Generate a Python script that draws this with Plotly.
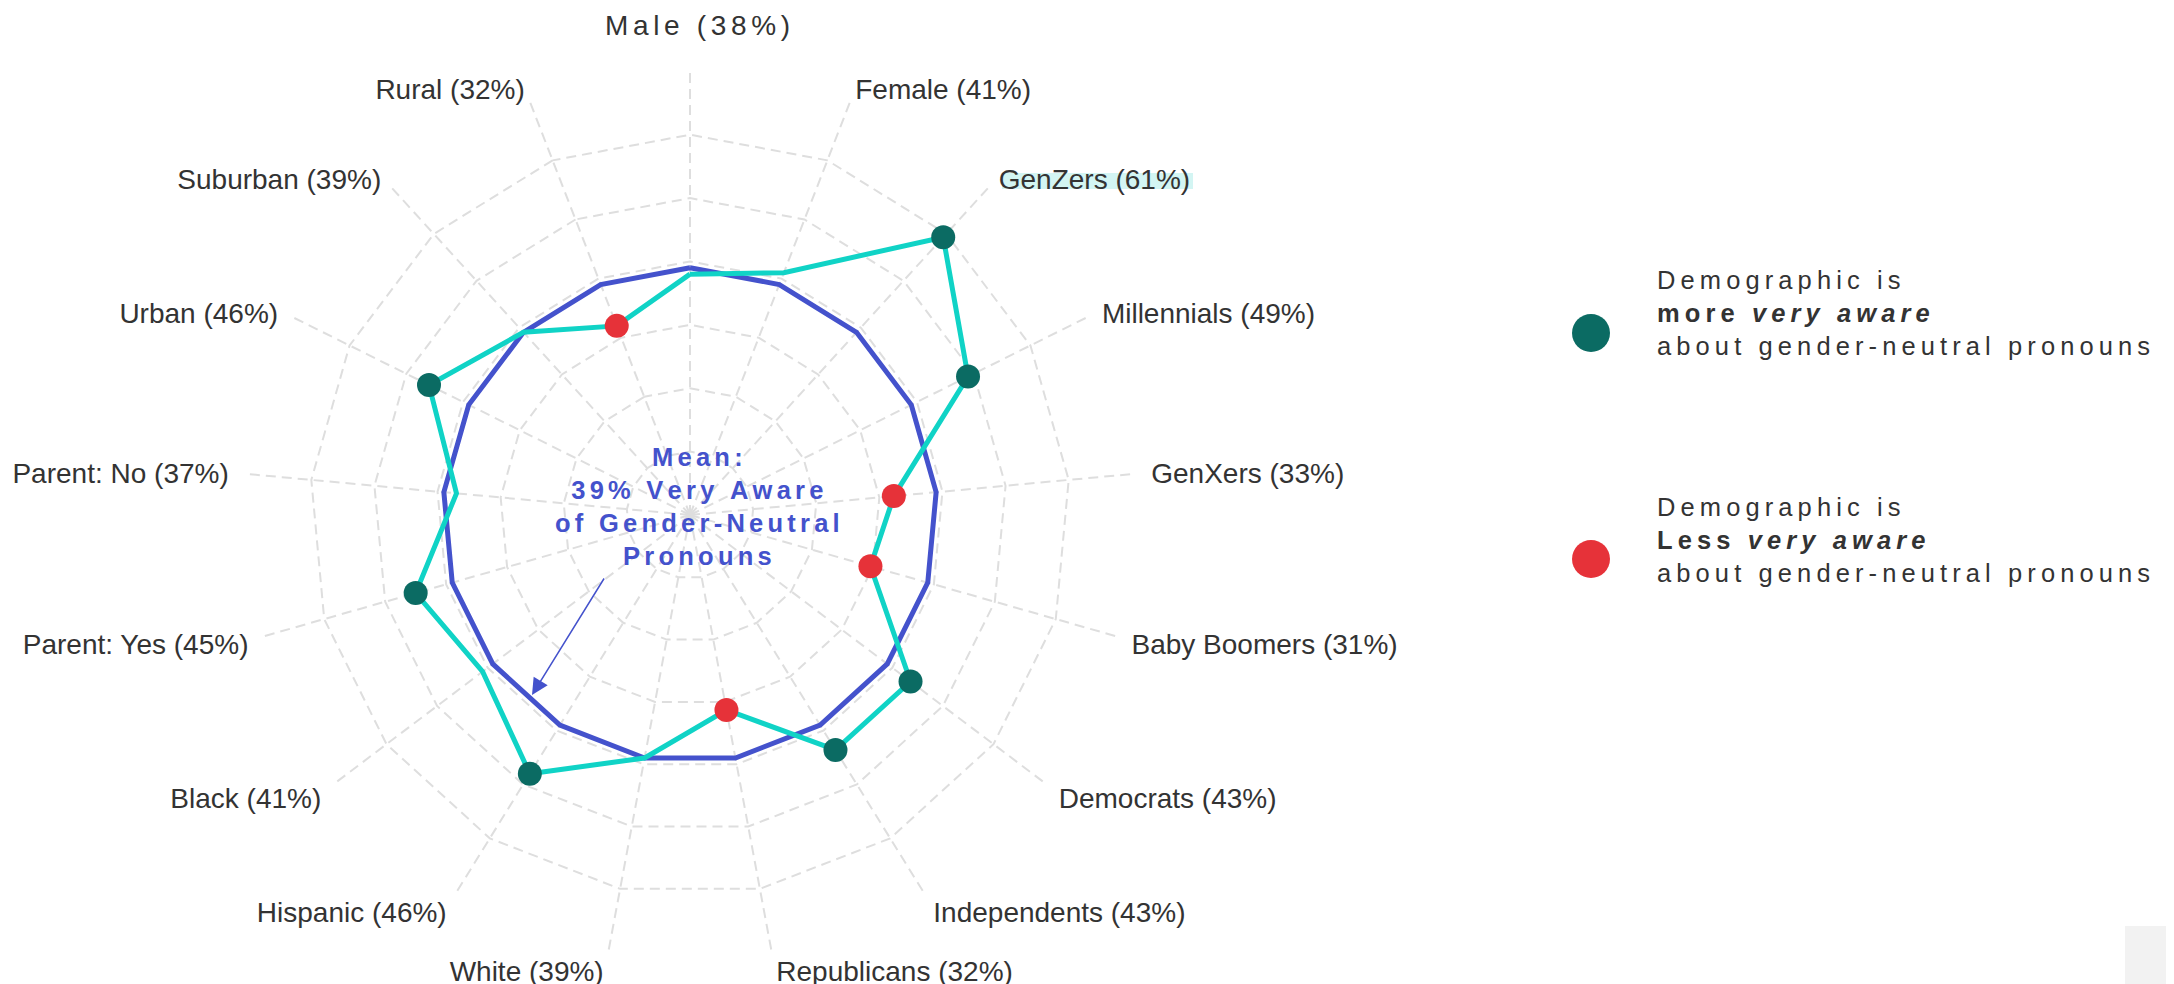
import math
import plotly.graph_objects as go

# ---------------- data ----------------
categories = ["Male", "Female", "GenZers", "Millennials", "GenXers", "Baby Boomers",
              "Democrats", "Independents", "Republicans", "White", "Hispanic", "Black",
              "Parent: Yes", "Parent: No", "Urban", "Suburban", "Rural"]
# percentages printed in the category labels
label_pct = [38, 41, 61, 49, 33, 31, 43, 43, 32, 39, 46, 41, 45, 37, 46, 39, 32]
# plotted values
values = [38, 41, 59.3, 49, 32.3, 29.6, 43.6, 43.6, 31.3, 39, 48, 41, 45, 37, 46, 39, 32]
significance = [None, None, "more", "more", "less", "less", "more", "more", "less",
                None, "more", None, "more", None, "more", None, "less"]
mean_value = 39

# ---------------- styles ----------------
W, H = 2174, 984
OFF = 8  # page body margin offset
BLUE = "#4452cc"
TEAL = "#10d3c6"
GREEN = "#0b6b63"
RED = "#e63239"
GRID = "#dedede"
TXT = "#333333"
FONT = "Liberation Sans, Arial, sans-serif"
THIN = "\u2009"
SIX = "\u2006"


def spaced(s, sp=THIN):
    return sp.join(list(s))


def fx(x):
    return (x - OFF) / W


def fy(y):
    return 1 - (y - OFF) / H


N = len(categories)
ticklabels = []
for i, (c, p) in enumerate(zip(categories, label_pct)):
    lab = f"{c} ({p}%)"
    if i == 0:
        lab = " "  # top label is drawn as a letter-spaced annotation below
    else:
        ang = 2 * math.pi * i / N
        n = int(round(3.6 * abs(math.sin(ang))))
        if math.sin(ang) > 0:
            lab = SIX * n + lab
        else:
            lab = lab + SIX * n
    ticklabels.append(lab)

cats_closed = categories + [categories[0]]
vals_closed = values + [values[0]]

fig = go.Figure()

fig.add_trace(go.Scatterpolar(
    r=[mean_value] * len(cats_closed), theta=cats_closed, mode="lines",
    line=dict(color=BLUE, width=5), hoverinfo="skip", showlegend=False))

fig.add_trace(go.Scatterpolar(
    r=vals_closed, theta=cats_closed, mode="lines",
    line=dict(color=TEAL, width=5), showlegend=False))

sig_r = [v for v, s in zip(values, significance) if s]
sig_t = [c for c, s in zip(categories, significance) if s]
sig_c = [GREEN if s == "more" else RED for s in significance if s]
fig.add_trace(go.Scatterpolar(
    r=sig_r, theta=sig_t, mode="markers",
    marker=dict(color=sig_c, size=24), showlegend=False))

cx, cy, R = 690, 515, 444  # page pixels
fig.update_layout(
    width=W, height=H,
    margin=dict(l=0, r=0, t=0, b=0),
    paper_bgcolor="white",
    plot_bgcolor="white",
    font=dict(family=FONT, color=TXT),
    polar=dict(
        domain=dict(x=[fx(cx - R), fx(cx + R)], y=[fy(cy + R), fy(cy - R)]),
        bgcolor="rgba(0,0,0,0)",
        gridshape="linear",
        radialaxis=dict(range=[0, 70.05], tick0=0, dtick=10, showticklabels=False,
                        ticks="", showline=False, gridcolor=GRID, gridwidth=2,
                        griddash="10px,6px"),
        angularaxis=dict(type="category", categoryarray=categories,
                         direction="clockwise", rotation=90,
                         tickvals=categories, ticktext=ticklabels,
                         tickfont=dict(size=28, color=TXT, family=FONT),
                         showline=False, ticks="", gridcolor=GRID, gridwidth=2,
                         griddash="10px,6px"),
    ),
)

shapes = []
shapes.append(dict(type="rect", xref="paper", yref="paper", layer="below",
                   x0=fx(1002), x1=fx(1193), y0=fy(189), y1=fy(173),
                   fillcolor="#d3f5f3", line=dict(width=0)))
for ycen, col in [(333, GREEN), (559, RED)]:
    shapes.append(dict(type="circle", xref="paper", yref="paper",
                       x0=fx(1591 - 19), x1=fx(1591 + 19), y0=fy(ycen + 19), y1=fy(ycen - 19),
                       fillcolor=col, line=dict(width=0)))
shapes.append(dict(type="rect", xref="paper", yref="paper",
                   x0=fx(2125), x1=1, y0=0, y1=fy(926),
                   fillcolor="#f2f2f2", line=dict(width=0)))
fig.update_layout(shapes=shapes)

annotations = []
# top category label (letter-spaced)
annotations.append(dict(xref="paper", yref="paper", x=fx(697), y=fy(25),
                        xanchor="center", yanchor="middle", showarrow=False,
                        text=spaced(f"{categories[0]} ({label_pct[0]}%)", SIX),
                        font=dict(size=28, color=TXT, family=FONT)))
mean_text = "<br>".join([
    spaced("Mean:", SIX),
    spaced(f"{mean_value}% Very Aware", SIX),
    spaced("of Gender-Neutral", SIX),
    spaced("Pronouns", SIX),
])
annotations.append(dict(xref="paper", yref="paper", x=fx(697), y=fy(507),
                        xanchor="center", yanchor="middle", showarrow=False,
                        text="<b>" + mean_text + "</b>", align="center",
                        font=dict(size=25.5, color=BLUE, family=FONT)))
annotations.append(dict(xref="paper", yref="paper", x=fx(532), y=fy(695),
                        ax=605 - 532, ay=577 - 695, axref="pixel", ayref="pixel",
                        text="", showarrow=True, arrowhead=2, arrowsize=2.2,
                        arrowwidth=1.5, arrowcolor=BLUE, standoff=0))


def legend_text(word):
    return (spaced("Demographic is") + "<br><b>" + spaced(word) + THIN + " " + THIN
            + "<i>" + spaced("very aware") + "</i></b><br>"
            + spaced("about gender-neutral pronouns"))


for ymid, word in [(313, "more"), (540, "Less")]:
    annotations.append(dict(xref="paper", yref="paper", x=fx(1655), y=fy(ymid),
                            xanchor="left", yanchor="middle", showarrow=False,
                            align="left", text=legend_text(word),
                            font=dict(size=25.5, color=TXT, family=FONT)))
fig.update_layout(annotations=annotations)

fig.write_html("out.html")
